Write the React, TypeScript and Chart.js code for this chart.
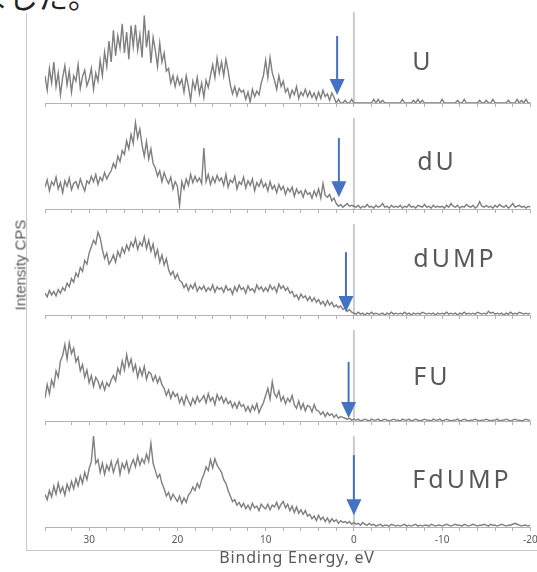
import React, { useEffect, useRef } from 'react';
import { Chart, registerables } from 'chart.js';

Chart.register(...registerables);

// Energy grid: 35 eV down to -20 eV, 0.25 eV step
const E_START = 35;
const E_STEP = 0.25;

const U_VALUES = [
  30, 14, 38, 22, 45, 18, 33, 9, 28, 41, 20, 35, 12, 30, 24, 42, 16, 29, 36, 19,
  26, 38, 15, 33, 24, 47, 30, 56, 40, 68, 45, 80, 52, 74, 60, 87, 55, 78, 48, 85,
  62, 86, 58, 75, 50, 96, 61, 80, 44, 72, 58, 40, 66, 45, 55, 35, 38, 22, 30, 18,
  29, 20, 26, 12, 30, 18, 3, 24, 15, 28, 10, 22, 6, 25, 17, 30, 42, 28, 49, 33,
  45, 30, 48, 35, 20, 10, 18, 8, 16, 12, 14, 4, 12, 1, 15, 7, 13, 9, 22, 30,
  47, 28, 50, 33, 25, 15, 30, 18, 24, 12, 16, 6, 14, 9, 18, 5, 12, 8, 15, 7,
  13, 6, 11, 4, 12, 5, 14, 7, 10, 3, 11, 6, 0, 4, 0, 0, 3, 0, 0, 4,
  0, 0, 0, 0, 0, 0, 0, 0, 0, 4, 0, 4, 0, 3, 0, 0, 0, 0, 0, 0,
  0, 0, 4, 0, 0, 0, 0, 3, 0, 4, 0, 3, 0, 0, 0, 0, 0, 0, 0, 0,
  4, 0, 0, 0, 0, 0, 0, 3, 0, 0, 4, 0, 0, 0, 0, 0, 0, 3, 0, 0,
  3, 0, 0, 4, 0, 0, 0, 0, 0, 0, 3, 0, 0, 0, 4, 0, 3, 0, 4, 0,
  0,
];

const DU_VALUES = [
  24, 32, 20, 30, 26, 35, 22, 29, 18, 31, 25, 34, 21, 28, 30, 23, 33, 26, 20, 31,
  28, 36, 30, 38, 27, 35, 31, 40, 33, 38, 42, 50, 45, 58, 52, 64, 60, 75, 66, 82,
  72, 95, 78, 88, 70, 58, 74, 55, 66, 50, 45, 36, 42, 30, 40, 33, 28, 35, 22, 30,
  25, 4, 30, 22, 33, 26, 38, 29, 36, 30, 34, 28, 67, 30, 38, 27, 35, 29, 37, 31,
  34, 26, 38, 24, 32, 29, 36, 22, 30, 27, 35, 23, 31, 26, 33, 20, 29, 25, 32, 24,
  28, 20, 30, 22, 26, 18, 27, 21, 25, 16, 23, 19, 24, 14, 22, 17, 20, 13, 21, 16,
  18, 12, 20, 14, 22, 12, 28, 15, 13, 16, 9, 12, 6, 3, 5, 2, 4, 6, 3, 4,
  3, 2, 4, 1, 3, 2, 5, 2, 3, 1, 4, 2, 3, 6, 2, 3, 1, 4, 2, 3,
  2, 4, 1, 3, 2, 5, 2, 3, 1, 4, 3, 2, 5, 2, 3, 1, 4, 2, 3, 2,
  3, 1, 4, 2, 6, 3, 2, 4, 1, 3, 2, 5, 3, 2, 4, 1, 3, 8, 3, 2,
  4, 2, 3, 1, 4, 2, 5, 3, 2, 4, 1, 3, 6, 2, 3, 4, 2, 3, 1, 3,
  2,
];

const DUMP_VALUES = [
  24, 20, 27, 22, 26, 21, 28, 24, 30, 27, 35, 31, 40, 36, 46, 42, 52, 48, 60, 56,
  68, 75, 82, 78, 91, 85, 72, 62, 68, 56, 60, 66, 58, 70, 64, 74, 68, 77, 71, 80,
  75, 84, 72, 80, 76, 86, 73, 82, 70, 78, 64, 72, 58, 66, 55, 62, 50, 44, 48, 40,
  45, 38, 36, 30, 34, 27, 33, 29, 35, 26, 31, 28, 32, 26, 30, 27, 33, 25, 31, 28,
  30, 25, 32, 27, 29, 23, 31, 26, 33, 28, 30, 24, 32, 27, 29, 25, 33, 28, 31, 26,
  30, 26, 33, 28, 31, 25, 34, 29, 32, 27, 30, 24, 26, 20, 22, 17, 23, 19, 21, 16,
  20, 15, 19, 14, 17, 12, 15, 10, 16, 11, 14, 9, 11, 8, 10, 6, 8, 4, 6, 3,
  2, 1, 3, 1, 2, 0, 2, 1, 3, 1, 2, 1, 1, 2, 0, 2, 1, 3, 1, 2,
  1, 2, 1, 3, 1, 2, 0, 2, 1, 2, 1, 3, 2, 1, 2, 1, 2, 0, 2, 1,
  2, 1, 3, 1, 2, 1, 2, 0, 2, 1, 3, 1, 2, 1, 2, 1, 3, 2, 1, 2,
  1, 4, 2, 3, 1, 2, 1, 2, 0, 2, 1, 3, 1, 2, 1, 3, 2, 1, 2, 1,
  2,
];

const FU_VALUES = [
  25, 40, 30, 45, 38, 55, 48, 66, 72, 84, 68, 86, 74, 80, 65, 70, 55, 62, 48, 56,
  42, 50, 38, 48, 44, 36, 43, 34, 42, 38, 45, 50, 44, 58, 52, 66, 56, 73, 60, 68,
  55, 62, 48, 58, 50, 60, 46, 54, 52, 44, 50, 42, 48, 40, 36, 28, 34, 25, 32, 27,
  30, 20, 26, 18, 28, 22, 17, 25, 19, 27, 21, 24, 28, 20, 30, 22, 26, 18, 29, 23,
  27, 20, 25, 19, 22, 15, 20, 14, 21, 16, 18, 11, 16, 10, 17, 12, 19, 9, 15, 20,
  28, 36, 24, 43, 30, 26, 33, 22, 27, 19, 25, 21, 28, 18, 14, 22, 13, 19, 11, 17,
  16, 10, 18, 12, 11, 7, 10, 5, 9, 6, 8, 4, 7, 3, 5, 4, 3, 2, 3, 1,
  2, 1, 2, 0, 1, 2, 1, 0, 2, 1, 1, 2, 0, 1, 2, 1, 0, 1, 2, 1,
  1, 0, 2, 1, 1, 2, 0, 1, 2, 1, 0, 1, 2, 1, 1, 0, 2, 1, 1, 2,
  0, 1, 2, 1, 0, 1, 1, 2, 0, 1, 2, 1, 0, 1, 1, 2, 1, 0, 1, 1,
  2, 1, 0, 1, 1, 2, 0, 1, 1, 2, 1, 0, 1, 2, 1, 1, 0, 1, 2, 1,
  1,
];

const FDUMP_VALUES = [
  36, 30, 40, 33, 45, 36, 48, 38, 44, 35, 47, 40, 50, 42, 53, 45, 56, 48, 60, 52,
  64, 72, 100, 70, 74, 60, 70, 58, 68, 62, 72, 60, 68, 74, 58, 70, 64, 72, 60, 68,
  74, 66, 78, 68, 75, 70, 80, 72, 92, 70, 62, 54, 58, 48, 42, 34, 38, 30, 36, 32,
  28, 34, 26, 32, 27, 35, 38, 44, 40, 48, 43, 52, 58, 66, 62, 74, 65, 75, 68, 64,
  60, 52, 48, 40, 34, 28, 30, 24, 27, 22, 26, 20, 24, 19, 26, 21, 23, 18, 25, 22,
  20, 25, 19, 24, 22, 27, 20, 25, 28, 21, 25, 18, 23, 16, 22, 15, 19, 14, 18, 12,
  14, 9, 12, 7, 13, 8, 11, 6, 10, 5, 9, 6, 8, 4, 7, 5, 6, 4, 6, 3,
  5, 3, 4, 2, 5, 3, 2, 4, 2, 3, 1, 2, 3, 1, 2, 2, 1, 3, 2, 1,
  2, 1, 2, 3, 1, 2, 1, 2, 3, 1, 2, 1, 2, 2, 1, 3, 2, 1, 2, 2,
  1, 2, 3, 2, 1, 2, 3, 2, 2, 1, 3, 2, 1, 2, 3, 2, 1, 2, 2, 3,
  2, 1, 3, 2, 2, 1, 2, 3, 2, 1, 2, 2, 3, 4, 3, 2, 1, 2, 2, 1,
  2,
];

const SERIES = [U_VALUES, DU_VALUES, DUMP_VALUES, FU_VALUES, FDUMP_VALUES];
const SAMPLE_NAMES = ['U', 'dU', 'dUMP', 'FU', 'FdUMP'];
// arrow: energy (eV) and vertical extent in panel units (0..100)
const ARROW_ENERGY = [1.9, 1.7, 0.9, 0.6, 0.0];
const ARROW_TOP = [73.6, 78, 69, 65, 79];
const ARROW_TIP = [8.8, 13, 3.3, 3.3, 13];
const X_TICK_LABELS = [30, 20, 10, 0, -10, -20];
const X_MIN = -20;
const X_MAX = 35;

// layout (pixels)
const CANVAS_W = 560;
const PLOT_LEFT = 45;
const PLOT_RIGHT = 530.4;
const PLOT_H = 91;
const PAD_TOP = 5;
const AXIS_Y = [103, 209, 315, 421, 527];
const LABEL_POS = [
  [423, 60],
  [437, 160],
  [455, 257],
  [432, 375],
  [462, 478],
];

function Panel({ idx }: { idx: number }) {
  const ref = useRef<HTMLCanvasElement>(null);
  const isBottom = idx === SERIES.length - 1;
  const axisH = isBottom ? 22 : 6;
  const canvasH = PAD_TOP + PLOT_H + axisH;

  useEffect(() => {
    const values = SERIES[idx];
    const data = values.map((v, i) => ({ x: E_START - i * E_STEP, y: v }));
    const marks = {
      id: 'marks' + idx,
      beforeDatasetsDraw(chart: any) {
        const { ctx, chartArea, scales } = chart;
        const x0 = scales.x.getPixelForValue(0);
        ctx.save();
        ctx.strokeStyle = '#cccccc';
        ctx.lineWidth = 2;
        ctx.beginPath();
        ctx.moveTo(x0, chartArea.top);
        ctx.lineTo(x0, chartArea.bottom);
        ctx.stroke();
        ctx.restore();
      },
      afterDatasetsDraw(chart: any) {
        const { ctx, scales } = chart;
        const xa = scales.x.getPixelForValue(ARROW_ENERGY[idx]);
        const yt = scales.y.getPixelForValue(ARROW_TOP[idx]);
        const yp = scales.y.getPixelForValue(ARROW_TIP[idx]);
        const headH = 16;
        const headW = 15;
        ctx.save();
        ctx.strokeStyle = '#4472C4';
        ctx.fillStyle = '#4472C4';
        ctx.lineWidth = 2;
        ctx.beginPath();
        ctx.moveTo(xa, yt);
        ctx.lineTo(xa, yp - headH + 1);
        ctx.stroke();
        ctx.beginPath();
        ctx.moveTo(xa - headW / 2, yp - headH);
        ctx.lineTo(xa + headW / 2, yp - headH);
        ctx.lineTo(xa, yp);
        ctx.closePath();
        ctx.fill();
        ctx.restore();
      },
    };
    const chart = new Chart(ref.current as HTMLCanvasElement, {
      type: 'line',
      data: {
        datasets: [
          {
            data,
            borderColor: '#7f7f7f',
            borderWidth: 1.4,
            pointRadius: 0,
            tension: 0,
            fill: false,
          },
        ],
      },
      options: {
        animation: false,
        responsive: false,
        maintainAspectRatio: false,
        layout: {
          padding: { left: PLOT_LEFT, right: CANVAS_W - PLOT_RIGHT, top: PAD_TOP, bottom: 0 },
        },
        plugins: { legend: { display: false }, tooltip: { enabled: false } },
        scales: {
          x: {
            type: 'linear',
            reverse: true,
            min: X_MIN,
            max: X_MAX,
            afterFit: (s: any) => {
              s.height = axisH;
              s.paddingLeft = 0;
              s.paddingRight = 0;
            },
            ticks: {
              stepSize: 2,
              autoSkip: false,
              maxRotation: 0,
              padding: 3,
              color: '#595959',
              font: { size: 10, family: 'Noto Sans' },
              callback: (v: any) => (isBottom && X_TICK_LABELS.includes(Number(v)) ? String(Number(v)) : ''),
            },
            grid: { display: true, drawOnChartArea: false, drawTicks: true, tickLength: 4, color: '#b3b3b3' },
            border: { display: true, color: '#b3b3b3', width: 1 },
          },
          y: { display: false, min: 0, max: 100 },
        },
      } as any,
      plugins: [marks],
    });
    return () => chart.destroy();
  }, [idx]);

  return (
    <canvas
      ref={ref}
      width={CANVAS_W}
      height={canvasH}
      style={{ position: 'absolute', left: 0, top: AXIS_Y[idx] - PLOT_H - PAD_TOP, width: CANVAS_W, height: canvasH, display: 'block' }}
    />
  );
}

export default function App() {
  return (
    <div
      style={{
        position: 'fixed',
        left: 0,
        top: 0,
        width: 537,
        height: 572,
        overflow: 'hidden',
        background: '#ffffff',
      }}
    >
      <div
        style={{
          position: 'absolute',
          left: -22,
          top: -20,
          fontFamily: '"Noto Sans CJK JP", sans-serif',
          fontSize: 30,
          lineHeight: '30px',
          color: '#222',
          whiteSpace: 'nowrap',
        }}
      >
        ました。
      </div>
      <div style={{ position: 'absolute', left: 26, top: 13, width: 1, height: 537, background: '#c8c8c8' }} />
      <div style={{ position: 'absolute', left: 26, top: 550, width: 511, height: 1, background: '#c8c8c8' }} />
      {SERIES.map((_, i) => (
        <Panel key={i} idx={i} />
      ))}
      {SAMPLE_NAMES.map((name, i) => (
        <div
          key={name}
          style={{
            position: 'absolute',
            left: LABEL_POS[i][0],
            top: LABEL_POS[i][1],
            transform: 'translate(-50%, -50%)',
            fontFamily: '"Noto Sans", sans-serif',
            fontSize: 25,
            letterSpacing: 3,
            color: '#595959',
            whiteSpace: 'nowrap',
          }}
        >
          {name}
        </div>
      ))}
      <div
        style={{
          position: 'absolute',
          left: 297,
          top: 557,
          transform: 'translate(-50%, -50%)',
          fontFamily: '"Noto Sans", sans-serif',
          fontSize: 16,
          letterSpacing: 0.8,
          color: '#595959',
          whiteSpace: 'nowrap',
        }}
      >
        Binding Energy, eV
      </div>
      <div
        style={{
          position: 'absolute',
          left: 20,
          top: 265,
          transform: 'translate(-50%, -50%) rotate(-90deg)',
          fontFamily: '"Liberation Sans", Arial, sans-serif',
          fontSize: 15,
          color: '#595959',
          whiteSpace: 'nowrap',
        }}
      >
        Intensity CPS
      </div>
    </div>
  );
}
